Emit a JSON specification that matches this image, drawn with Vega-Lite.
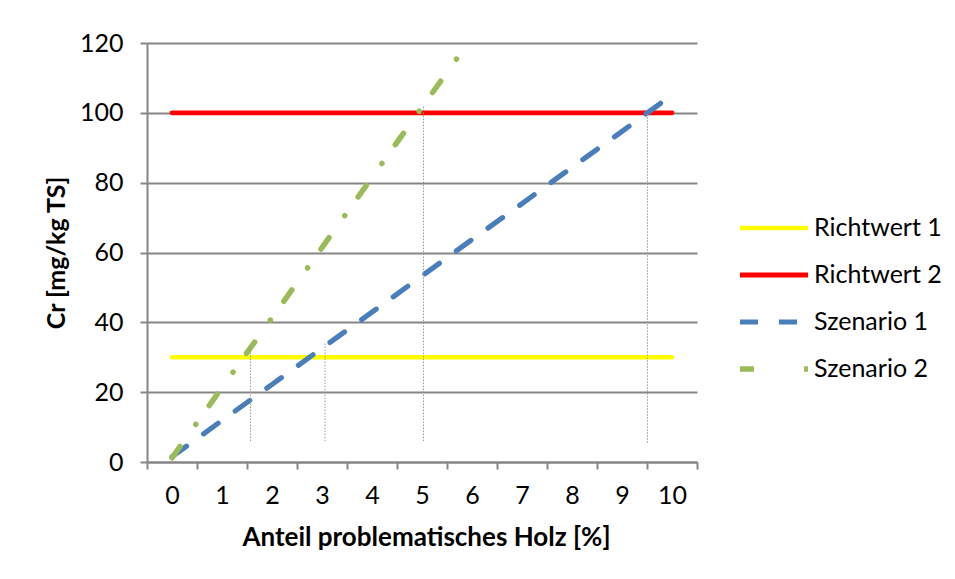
{
  "$schema": "https://vega.github.io/schema/vega-lite/v6.json",
  "width": 550,
  "height": 419,
  "autosize": "none",
  "padding": {"left": 147, "top": 43, "right": 258, "bottom": 117},
  "background": "white",
  "config": {
    "view": {"stroke": null},
    "font": "Lato",
    "axis": {
      "labelFont": "Lato",
      "labelFontSize": 25,
      "labelColor": "#000000",
      "titleFont": "Lato",
      "titleFontSize": 25,
      "titleFontWeight": "bold",
      "titleColor": "#000000",
      "domainColor": "#868686",
      "domainWidth": 2,
      "tickColor": "#868686",
      "tickWidth": 2,
      "tickSize": 7,
      "gridColor": "#868686",
      "gridWidth": 2
    }
  },
  "datasets": {
    "series": [
      {"series": "Richtwert 1", "x": 0, "y": 30},
      {"series": "Richtwert 1", "x": 10, "y": 30},
      {"series": "Richtwert 2", "x": 0, "y": 100},
      {"series": "Richtwert 2", "x": 10, "y": 100},
      {"series": "Szenario 1", "x": 0, "y": 1.5},
      {"series": "Szenario 1", "x": 1, "y": 11.9},
      {"series": "Szenario 1", "x": 2, "y": 22.2},
      {"series": "Szenario 1", "x": 3, "y": 32.6},
      {"series": "Szenario 1", "x": 4, "y": 42.9},
      {"series": "Szenario 1", "x": 5, "y": 53.3},
      {"series": "Szenario 1", "x": 6, "y": 63.7},
      {"series": "Szenario 1", "x": 7, "y": 74.0},
      {"series": "Szenario 1", "x": 8, "y": 84.4},
      {"series": "Szenario 1", "x": 9, "y": 94.7},
      {"series": "Szenario 1", "x": 10, "y": 105.1},
      {"series": "Szenario 2", "x": 0, "y": 1.2},
      {"series": "Szenario 2", "x": 1, "y": 21.3},
      {"series": "Szenario 2", "x": 2, "y": 41.3},
      {"series": "Szenario 2", "x": 3, "y": 61.4},
      {"series": "Szenario 2", "x": 4, "y": 81.5},
      {"series": "Szenario 2", "x": 5, "y": 101.6},
      {"series": "Szenario 2", "x": 6, "y": 121.6}
    ],
    "drops": [
      {"x": 1.57, "y": 6, "y2": 33},
      {"x": 3.06, "y": 6, "y2": 34},
      {"x": 5.03, "y": 6, "y2": 102},
      {"x": 9.51, "y": 5.5, "y2": 100}
    ]
  },
  "resolve": {"axis": {"x": "independent"}},
  "layer": [
    {
      "data": {"name": "series"},
      "mark": {"type": "line", "strokeCap": "round", "clip": true},
      "encoding": {
        "x": {
          "field": "x",
          "type": "quantitative",
          "title": "Anteil problematisches Holz [%]",
          "scale": {"domain": [-0.5, 10.5], "nice": false, "zero": false},
          "axis": {
            "orient": "bottom",
            "values": [0, 1, 2, 3, 4, 5, 6, 7, 8, 9, 10],
            "format": "d",
            "tickOpacity": 0,
            "grid": false,
            "labelPadding": 14,
            "labelFlush": false,
            "labelOverlap": false,
            "titleFontSize": 26,
            "titlePadding": 16,
            "titleX": 279
          }
        },
        "y": {
          "field": "y",
          "type": "quantitative",
          "title": "Cr [mg/kg TS]",
          "scale": {"domain": [0, 120], "nice": false},
          "axis": {
            "values": [0, 20, 40, 60, 80, 100, 120],
            "grid": true,
            "labelPadding": 17,
            "titlePadding": 10
          }
        },
        "color": {
          "field": "series",
          "type": "nominal",
          "scale": {
            "domain": ["Richtwert 1", "Richtwert 2", "Szenario 1", "Szenario 2"],
            "range": ["#FFFF00", "#FF0000", "#4A7EBB", "#9BBB59"]
          },
          "legend": {
            "title": null,
            "orient": "none",
            "legendX": 590,
            "legendY": 170,
            "symbolType": "stroke",
            "symbolSize": 4624,
            "clipHeight": 30,
            "rowPadding": 17,
            "labelFont": "Lato",
            "labelFontSize": 25,
            "labelColor": "#000000",
            "labelOffset": 3
          }
        },
        "strokeDash": {
          "field": "series",
          "type": "nominal",
          "scale": {
            "domain": ["Richtwert 1", "Richtwert 2", "Szenario 1", "Szenario 2"],
            "range": [[1, 0], [1, 0], [18, 21], [14, 27, 0.1, 23]]
          }
        },
        "strokeWidth": {
          "field": "series",
          "type": "nominal",
          "scale": {
            "domain": ["Richtwert 1", "Richtwert 2", "Szenario 1", "Szenario 2"],
            "range": [4.5, 5.5, 5, 5]
          }
        }
      }
    },
    {
      "data": {"name": "drops"},
      "mark": {"type": "rule", "strokeDash": [1.5, 1.5], "color": "#9a9a9a", "strokeWidth": 1},
      "encoding": {
        "x": {
          "field": "x",
          "type": "quantitative",
          "axis": {
            "orient": "bottom",
            "values": [-0.5, 0.5, 1.5, 2.5, 3.5, 4.5, 5.5, 6.5, 7.5, 8.5, 9.5, 10.5],
            "labels": false,
            "domain": false,
            "grid": false,
            "title": null
          }
        },
        "y": {"field": "y", "type": "quantitative", "title": "Cr [mg/kg TS]"},
        "y2": {"field": "y2"}
      }
    }
  ]
}
